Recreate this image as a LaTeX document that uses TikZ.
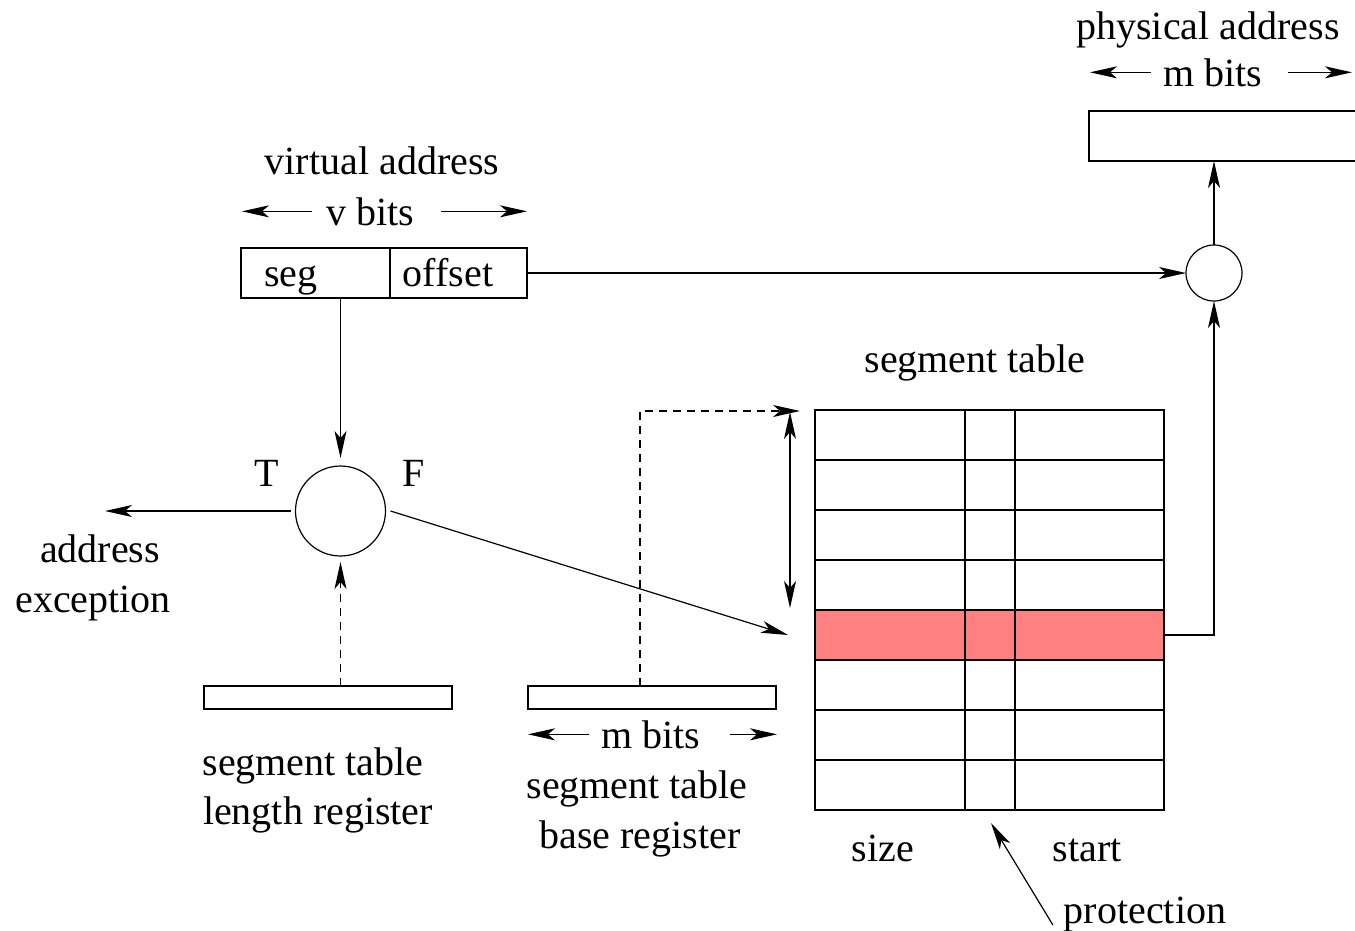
\documentclass[tikz,border=0pt]{standalone}
\usepackage{fontspec}
\setmainfont{Liberation Serif}
\usetikzlibrary{arrows.meta,calc}
\definecolor{tblred}{RGB}{255,128,128}
\begin{document}
\begin{tikzpicture}[x=1pt,y=-1pt,
  line width=1.2pt,
  every node/.style={font=\fontsize{40}{49.5}\selectfont, inner sep=0pt, outer sep=0pt},
  lbl/.style={anchor=base},
  tip/.style={-{Stealth[length=27pt,width=12pt,inset=7pt]}},
  dtip/.style={{Stealth[length=27pt,width=12pt,inset=7pt]}-{Stealth[length=27pt,width=12pt,inset=7pt]}},
  cell/.style={draw, minimum height=50pt},
  reg/.style={draw, line width=2.6pt, minimum width=248pt, minimum height=23pt},
  dsh/.style={dash pattern=on 8pt off 6pt},
]
\useasboundingbox (0,0) rectangle (1355,930);

% virtual address
\node[lbl] (vaddr) at (382,174) {virtual address};
\node[lbl] (vbits) at (370,225) {v bits};
\coordinate (vl) at (242,211);
\coordinate (vr) at (527,211);
\draw[tip] ([xshift=-14pt]vbits.west) -- (vbits.west -| vl);
\draw[tip] ([xshift=27pt]vbits.east) -- (vbits.east -| vr);
\node[cell, minimum width=149pt] (seg) at (315.5,273) {};
\node[cell, minimum width=137pt] (off) at (458.5,273) {};
\node[lbl] (segtxt) at (291,286) {seg};
\node[lbl] (offtxt) at (448,286) {offset};

% physical address
\node[lbl] (paddr) at (1208,39) {physical address};
\node[lbl] (mbits1) at (1213,86) {m bits};
\coordinate (ml) at (1090,72);
\coordinate (mr) at (1352,72);
\draw[tip] ([xshift=-13pt]mbits1.west) -- (mbits1.west -| ml);
\draw[tip] ([xshift=26pt]mbits1.east) -- (mbits1.east -| mr);
\node[draw, minimum width=280pt, minimum height=50pt, anchor=north west] (pbox) at (1089,111) {};

% adder circle
\node[draw, circle, minimum size=56pt] (pa) at (1214,273) {};
\draw[tip] (off.east) -- (pa.west);
\draw[tip] (pa.north) -- (pa.north |- pbox.south);

% comparator
\node[draw, circle, minimum size=90pt] (cmp) at (340.5,511) {};
\node[lbl] (T) at (267,486) {T};
\node[lbl] (F) at (414,486) {F};
\draw[tip, shorten >=8pt] (seg.south -| cmp) -- (cmp.north);
\coordinate (ex) at (105,511);
\draw[tip] ([xshift=-5pt]cmp.west) -- (ex);
\node[lbl] (exc1) at (100,562) {address};
\node[lbl] (exc2) at (93,612) {exception};
\coordinate (fe) at (788,635);
\draw[tip] ([xshift=5pt]cmp.east) -- (fe);

% registers
\node[reg] (len) at (328,697.5) {};
\node[reg] (base) at (652,697.5) {};
\draw[dsh, tip, shorten >=6pt] ([xshift=12.5pt]len.north) -- (cmp.south);
\coordinate (bt) at (800,411);
\draw[dsh, tip] ([xshift=-12pt]base.north) |- (bt);
\node[lbl] (lt1) at (313,775) {segment table};
\node[lbl] (lt2) at (318,824) {length register};
\node[lbl] (mbits2) at (651,748) {m bits};
\coordinate (bl) at (528,735);
\coordinate (br) at (777,735);
\draw[tip] ([xshift=-13pt]mbits2.west) -- (mbits2.west -| bl);
\draw[tip] ([xshift=30pt]mbits2.east) -- (mbits2.east -| br);
\node[lbl] (bt1) at (637,798) {segment table};
\node[lbl] (bt2) at (640,848) {base register};

% segment table
\node[lbl] (sttl) at (975,372) {segment table};
\foreach \i in {0,...,7}{
  \ifnum\i=4 \def\fl{tblred}\else\def\fl{white}\fi
  \node[cell, fill=\fl, minimum width=150pt] (sz\i) at (890,435+50*\i) {};
  \node[cell, fill=\fl, minimum width=50pt] (pr\i) at (990,435+50*\i) {};
  \node[cell, fill=\fl, minimum width=149pt] (st\i) at (1089.5,435+50*\i) {};
}
\coordinate (dt) at (790,412);
\coordinate (db) at (790,608);
\draw[dtip] (dt) -- (db);
\draw[tip] (st4.east) -| (pa.south);

\node[lbl] (size) at (883,861) {size};
\node[lbl] (start) at (1087,861) {start};
\node[lbl] (prot) at (1145,923) {protection};
\coordinate (pt) at (991,823);
\draw[tip] ([shift={(-11,11)}]prot.west) -- (pt);
\end{tikzpicture}
\end{document}
